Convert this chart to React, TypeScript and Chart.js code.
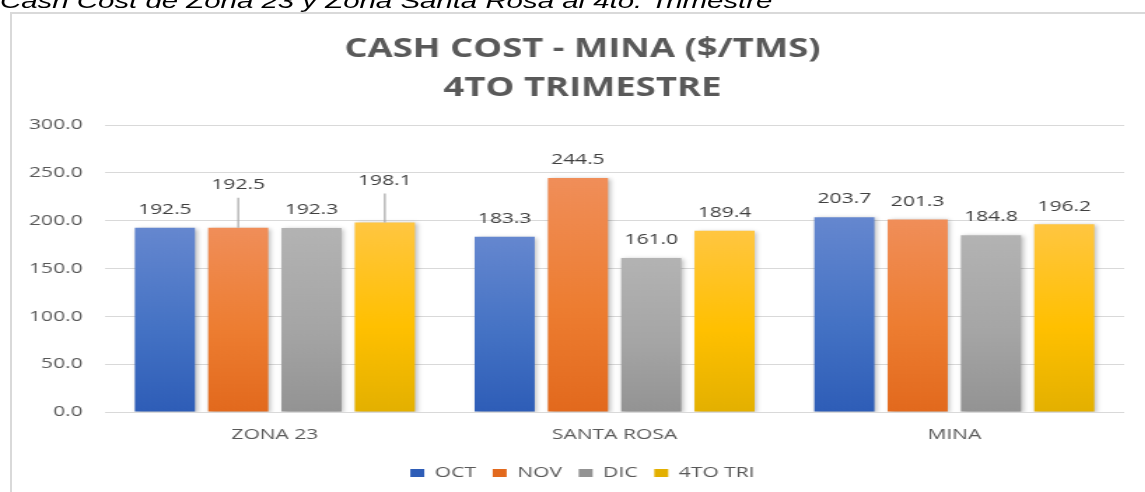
import React, { useEffect, useRef } from "react";
import { Chart, registerables } from "chart.js";

Chart.register(...registerables);

// ---- data ----
const categories = ["ZONA 23", "SANTA ROSA", "MINA"];
const seriesNames = ["OCT", "NOV", "DIC", "4TO TRI"];
const octValues = [192.5, 183.3, 203.7];
const novValues = [192.5, 244.5, 201.3];
const dicValues = [192.3, 161.0, 184.8];
const triValues = [198.1, 189.4, 196.2];
const yMin = 0;
const yMax = 300;
const yStep = 50;
const titleLines = ["CASH COST - MINA ($/TMS)", "4TO TRIMESTRE"];
const caption = "Cash Cost de Zona 23 y Zona Santa Rosa al 4to. Trimestre";

// ---- styles ----
const STRETCH = 1.4;
const W = 818;
const H = 492;
const seriesStops: string[][] = [
  ["#6587cf", "#4472c4", "#2e5db7"],
  ["#f08e59", "#ed7d31", "#e2691d"],
  ["#b3b3b3", "#a5a5a5", "#939393"],
  ["#ffc641", "#ffc000", "#e3b000"],
];
const seriesMid = ["#4472c4", "#ed7d31", "#a5a5a5", "#ffc000"];

const gradientFill = (si: number) => (ctx: any) => {
  const chart = ctx.chart;
  if (ctx.type !== "data" || !chart.chartArea || !chart.scales?.y) return seriesMid[si];
  const ys = chart.scales.y;
  const top = ys.getPixelForValue(ctx.raw);
  const bottom = ys.getPixelForValue(0);
  if (!isFinite(top) || !isFinite(bottom) || top === bottom) return seriesMid[si];
  const g = chart.ctx.createLinearGradient(0, top, 0, bottom);
  g.addColorStop(0, seriesStops[si][0]);
  g.addColorStop(0.55, seriesStops[si][1]);
  g.addColorStop(1, seriesStops[si][2]);
  return g;
};

const barShadow = {
  id: "barShadow",
  beforeDatasetsDraw(chart: any) {
    const c = chart.ctx;
    c.save();
    c.shadowColor = "rgba(0,0,0,0.28)";
    c.shadowBlur = 4;
    c.shadowOffsetX = 1.5;
    c.shadowOffsetY = 1;
  },
  afterDatasetsDraw(chart: any) {
    chart.ctx.restore();
  },
};

const valueLabels = {
  id: "valueLabels",
  afterDatasetsDraw(chart: any, _args: any, opts: any) {
    const c = chart.ctx;
    c.save();
    c.font = '15px "Open Sans"';
    c.fillStyle = "#404040";
    c.textAlign = "center";
    c.textBaseline = "middle";
    chart.data.datasets.forEach((ds: any, di: number) => {
      const meta = chart.getDatasetMeta(di);
      meta.data.forEach((bar: any, i: number) => {
        const v = ds.data[i];
        const key = `${di}-${i}`;
        const lift = opts.lifts[key];
        const y = bar.y - (lift ?? opts.gap);
        if (lift) {
          c.strokeStyle = "#a6a6a6";
          c.lineWidth = 1.2;
          c.beginPath();
          c.moveTo(bar.x, y + 13);
          c.lineTo(bar.x, bar.y);
          c.stroke();
        }
        c.fillText(Number(v).toFixed(1), bar.x, y);
      });
    });
    c.restore();
  },
};

export default function App() {
  const ref = useRef<HTMLCanvasElement | null>(null);

  useEffect(() => {
    if (!ref.current) return;
    const seriesData = [octValues, novValues, dicValues, triValues];
    const chart = new Chart(ref.current, {
      type: "bar",
      data: {
        labels: categories,
        datasets: seriesNames.map((name, si) => ({
          label: name,
          data: seriesData[si],
          backgroundColor: gradientFill(si),
          borderWidth: 0,
          categoryPercentage: 0.863,
          barPercentage: 0.82,
        })),
      },
      options: {
        responsive: false,
        animation: false,
        devicePixelRatio: 1,
        layout: { padding: { left: 20, right: 6, top: 0, bottom: 1.5 } },
        plugins: {
          title: {
            display: true,
            text: titleLines,
            color: "#595959",
            font: { family: '"Open Sans"', size: 26, weight: "bold", lineHeight: 1.5 },
            padding: { top: 30, bottom: 17 },
          },
          legend: {
            position: "bottom",
            labels: {
              color: "#595959",
              font: { family: '"Open Sans"', size: 15 },
              boxWidth: 10,
              boxHeight: 8,
              padding: 12,
            },
          },
          tooltip: { enabled: false },
          valueLabels: { gap: 18, lifts: { "1-0": 43, "3-0": 42 } },
        } as any,
        scales: {
          x: {
            grid: { display: false, drawTicks: false },
            border: { display: false },
            ticks: { color: "#595959", font: { family: '"Open Sans"', size: 15 }, padding: 14 },
            afterFit: (s: any) => {
              s.height = 41.5;
            },
          },
          y: {
            min: yMin,
            max: yMax,
            grid: { color: "#d9d9d9", lineWidth: 1, drawTicks: false },
            border: { display: false },
            ticks: {
              stepSize: yStep,
              color: "#595959",
              font: { family: '"Open Sans"', size: 15 },
              padding: 16,
              callback: (v: any) => Number(v).toFixed(1),
            },
            afterFit: (s: any) => {
              s.width = 55;
            },
          },
          ySpacer: {
            type: "linear",
            position: "right",
            display: true,
            grid: { display: false, drawTicks: false },
            border: { display: false },
            ticks: { display: false },
            afterFit: (s: any) => {
              s.width = 9;
            },
          },
        } as any,
      },
      plugins: [barShadow, valueLabels],
    });
    return () => chart.destroy();
  }, []);

  return (
    <div
      style={{
        position: "fixed",
        left: 0,
        top: 0,
        width: 1145,
        height: 492,
        overflow: "hidden",
        background: "#ffffff",
      }}
    >
      <div
        style={{
          position: "absolute",
          left: 10,
          top: 12,
          width: 1300,
          height: 600,
          borderLeft: "2px solid #d9d9d9",
          borderTop: "2px solid #d9d9d9",
        }}
      />
      <div
        style={{
          position: "absolute",
          left: 0,
          top: 0,
          width: W,
          height: H,
          transform: `scaleX(${STRETCH})`,
          transformOrigin: "0 0",
        }}
      >
        <div
          style={{
            position: "absolute",
            left: 0,
            top: -10,
            fontFamily: '"Liberation Sans", Arial, sans-serif',
            fontStyle: "italic",
            fontSize: 21,
            lineHeight: "21px",
            whiteSpace: "nowrap",
            color: "#000",
          }}
        >
          {caption}
        </div>
        <canvas
          ref={ref}
          width={W}
          height={H}
          style={{ position: "absolute", left: 0, top: 0, width: W, height: H }}
        />
      </div>
    </div>
  );
}
